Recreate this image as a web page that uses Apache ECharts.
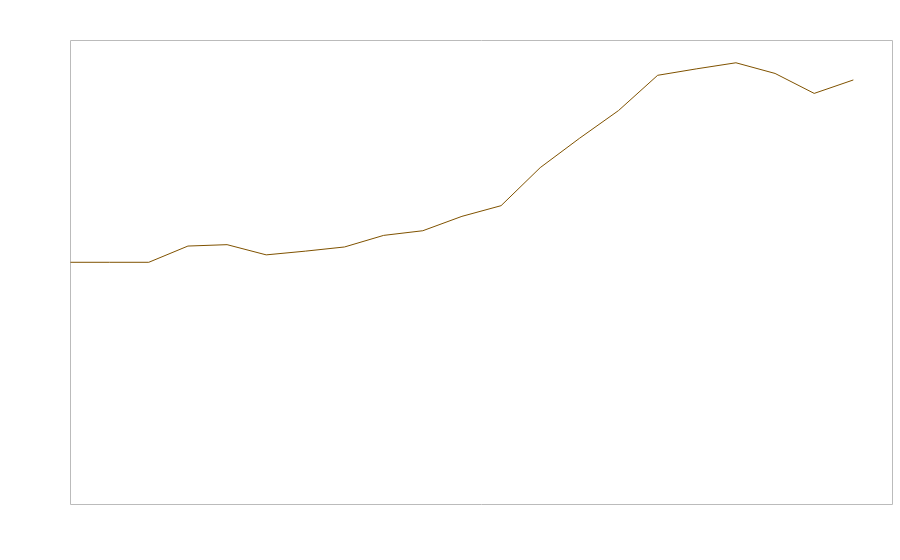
<!DOCTYPE html>
<html>
<head>
<meta charset="utf-8">
<script src="https://cdn.jsdelivr.net/npm/echarts@6/dist/echarts.min.js"></script>
<style>html,body{margin:0;padding:0;background:#fff}#c{width:900px;height:560px}</style>
</head>
<body>
<div id="c"></div>
<script>
var categories = ['1','2','3','4','5','6','7','8','9','10','11','12','13','14','15','16','17','18','19','20','21','22'];
var values = [52.2,52.2,52.2,55.7,56.0,53.8,54.6,55.5,58.0,59.0,62.1,64.4,72.6,78.9,84.9,92.5,93.9,95.2,92.9,88.6,91.5,null];

var chart = echarts.init(document.getElementById('c'));
chart.setOption({
  animation: false,
  backgroundColor: '#ffffff',
  grid: { left: 70.5, top: 40.5, right: 7.5, bottom: 55.5, show: true, borderColor: '#bbbbbb', borderWidth: 1, backgroundColor: 'transparent' },
  xAxis: { type: 'category', data: categories, boundaryGap: false, show: false },
  yAxis: { type: 'value', min: 0, max: 100, show: false, splitLine: { show: false } },
  series: [{
    type: 'line',
    data: values,
    showSymbol: false,
    symbol: 'none',
    lineStyle: { color: '#7f5200', width: 1 },
    itemStyle: { color: '#7f5200' }
  }]
});
</script>
</body>
</html>
